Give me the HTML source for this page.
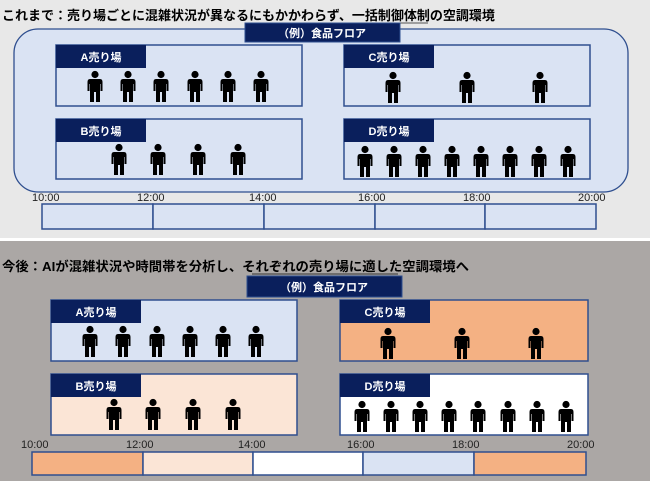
<!DOCTYPE html>
<html><head><meta charset="utf-8"><style>
html,body{margin:0;padding:0;background:#fff}
svg{display:block}
text{font-family:"Liberation Sans","Noto Sans CJK JP",sans-serif}
.t{font-size:13px;font-weight:bold;fill:#000}
.lb{font-size:11px;font-weight:bold;fill:#fff}
.tm{font-size:11px;fill:#222}
</style></head><body>
<svg width="650" height="481" viewBox="0 0 650 481" xmlns="http://www.w3.org/2000/svg">
<defs>
<g id="p">
<circle cx="0" cy="3.5" r="3.6" fill="#000"/>
<path d="M-5,8 H5 Q7.5,8 7.5,11 V20 H5.5 V13 H5 V31 H1 V21 H-1 V31 H-5 V13 H-5.5 V20 H-7.5 V11 Q-7.5,8 -5,8 Z" fill="#000"/>
</g>
</defs>
<!-- top panel -->
<rect x="0" y="0" width="650" height="238" fill="#e8e8e8"/>
<text class="t" x="2" y="20">これまで：売り場ごとに混雑状況が異なるにもかかわらず、一括制御体制の空調環境</text>
<line x1="343" y1="23" x2="428" y2="23" stroke="#555" stroke-width="1"/>
<rect x="14" y="29" width="614" height="163" rx="24" fill="#dae3f3" stroke="#2f4f8f" stroke-width="1.3"/>
<rect x="245" y="23" width="155" height="19" fill="#0a1f5c" stroke="#2f4f8f"/>
<text class="lb" x="322" y="37" text-anchor="middle">（例）食品フロア</text>
<!-- A -->
<rect x="56" y="45" width="246" height="61" fill="#dae3f3" stroke="#2f4f8f" stroke-width="1.5"/>
<rect x="56" y="45" width="90" height="23" fill="#0a1f5c"/>
<text class="lb" x="101" y="61" text-anchor="middle">A売り場</text>
<g transform="translate(0,71)"><use href="#p" x="95"/><use href="#p" x="128"/><use href="#p" x="161"/><use href="#p" x="195"/><use href="#p" x="228"/><use href="#p" x="261"/></g>
<!-- C -->
<rect x="344" y="45" width="246" height="61" fill="#dae3f3" stroke="#2f4f8f" stroke-width="1.5"/>
<rect x="344" y="45" width="90" height="23" fill="#0a1f5c"/>
<text class="lb" x="389" y="61" text-anchor="middle">C売り場</text>
<g transform="translate(0,72)"><use href="#p" x="393"/><use href="#p" x="467"/><use href="#p" x="540"/></g>
<!-- B -->
<rect x="56" y="119" width="246" height="60" fill="#dae3f3" stroke="#2f4f8f" stroke-width="1.5"/>
<rect x="56" y="119" width="90" height="23" fill="#0a1f5c"/>
<text class="lb" x="101" y="135" text-anchor="middle">B売り場</text>
<g transform="translate(0,144)"><use href="#p" x="119"/><use href="#p" x="158"/><use href="#p" x="198"/><use href="#p" x="238"/></g>
<!-- D -->
<rect x="344" y="119" width="246" height="60" fill="#dae3f3" stroke="#2f4f8f" stroke-width="1.5"/>
<rect x="344" y="119" width="90" height="23" fill="#0a1f5c"/>
<text class="lb" x="389" y="135" text-anchor="middle">D売り場</text>
<g transform="translate(0,146)"><use href="#p" x="365"/><use href="#p" x="394"/><use href="#p" x="423"/><use href="#p" x="452"/><use href="#p" x="481"/><use href="#p" x="510"/><use href="#p" x="539"/><use href="#p" x="568"/></g>
<!-- times -->
<g class="tm"><text x="32" y="201">10:00</text><text x="137" y="201">12:00</text><text x="249" y="201">14:00</text><text x="358" y="201">16:00</text><text x="463" y="201">18:00</text><text x="578" y="201">20:00</text></g>
<g fill="#dae3f3" stroke="#2f4f8f" stroke-width="1.5">
<rect x="42" y="204" width="111" height="25"/><rect x="153" y="204" width="111" height="25"/><rect x="264" y="204" width="111" height="25"/><rect x="375" y="204" width="110" height="25"/><rect x="485" y="204" width="111" height="25"/>
</g>
<!-- bottom panel -->
<rect x="0" y="241" width="650" height="240" fill="#aba7a5"/>
<text class="t" x="2" y="271" textLength="467" lengthAdjust="spacingAndGlyphs">今後：AIが混雑状況や時間帯を分析し、それぞれの売り場に適した空調環境へ</text>
<line x1="252" y1="274" x2="398" y2="274" stroke="#333" stroke-width="1"/>
<rect x="247" y="276" width="155" height="21" fill="#0a1f5c" stroke="#2f4f8f"/>
<text class="lb" x="324" y="291" text-anchor="middle">（例）食品フロア</text>
<!-- A -->
<rect x="51" y="300" width="246" height="61" fill="#dae3f3" stroke="#2f4f8f" stroke-width="1.5"/>
<rect x="51" y="300" width="90" height="23" fill="#0a1f5c"/>
<text class="lb" x="96" y="316" text-anchor="middle">A売り場</text>
<g transform="translate(0,326)"><use href="#p" x="90"/><use href="#p" x="123"/><use href="#p" x="157"/><use href="#p" x="190"/><use href="#p" x="223"/><use href="#p" x="256"/></g>
<!-- C -->
<rect x="340" y="300" width="248" height="61" fill="#f4b183" stroke="#2f4f8f" stroke-width="1.5"/>
<rect x="340" y="300" width="90" height="23" fill="#0a1f5c"/>
<text class="lb" x="385" y="316" text-anchor="middle">C売り場</text>
<g transform="translate(0,328)"><use href="#p" x="388"/><use href="#p" x="462"/><use href="#p" x="536"/></g>
<!-- B -->
<rect x="51" y="374" width="246" height="61" fill="#fbe5d6" stroke="#2f4f8f" stroke-width="1.5"/>
<rect x="51" y="374" width="90" height="23" fill="#0a1f5c"/>
<text class="lb" x="96" y="390" text-anchor="middle">B売り場</text>
<g transform="translate(0,399)"><use href="#p" x="114"/><use href="#p" x="153"/><use href="#p" x="193"/><use href="#p" x="233"/></g>
<!-- D -->
<rect x="340" y="374" width="248" height="61" fill="#ffffff" stroke="#2f4f8f" stroke-width="1.5"/>
<rect x="340" y="374" width="90" height="23" fill="#0a1f5c"/>
<text class="lb" x="385" y="390" text-anchor="middle">D売り場</text>
<g transform="translate(0,401)"><use href="#p" x="362"/><use href="#p" x="391"/><use href="#p" x="420"/><use href="#p" x="449"/><use href="#p" x="478"/><use href="#p" x="508"/><use href="#p" x="537"/><use href="#p" x="566"/></g>
<g class="tm"><text x="21" y="448">10:00</text><text x="126" y="448">12:00</text><text x="238" y="448">14:00</text><text x="347" y="448">16:00</text><text x="452" y="448">18:00</text><text x="567" y="448">20:00</text></g>
<g stroke="#2f4f8f" stroke-width="1.5">
<rect x="32" y="452" width="111" height="23" fill="#f4b183"/><rect x="143" y="452" width="110" height="23" fill="#fbe5d6"/><rect x="253" y="452" width="110" height="23" fill="#ffffff"/><rect x="363" y="452" width="111" height="23" fill="#dae3f3"/><rect x="474" y="452" width="112" height="23" fill="#f4b183"/>
</g>
</svg>
</body></html>
